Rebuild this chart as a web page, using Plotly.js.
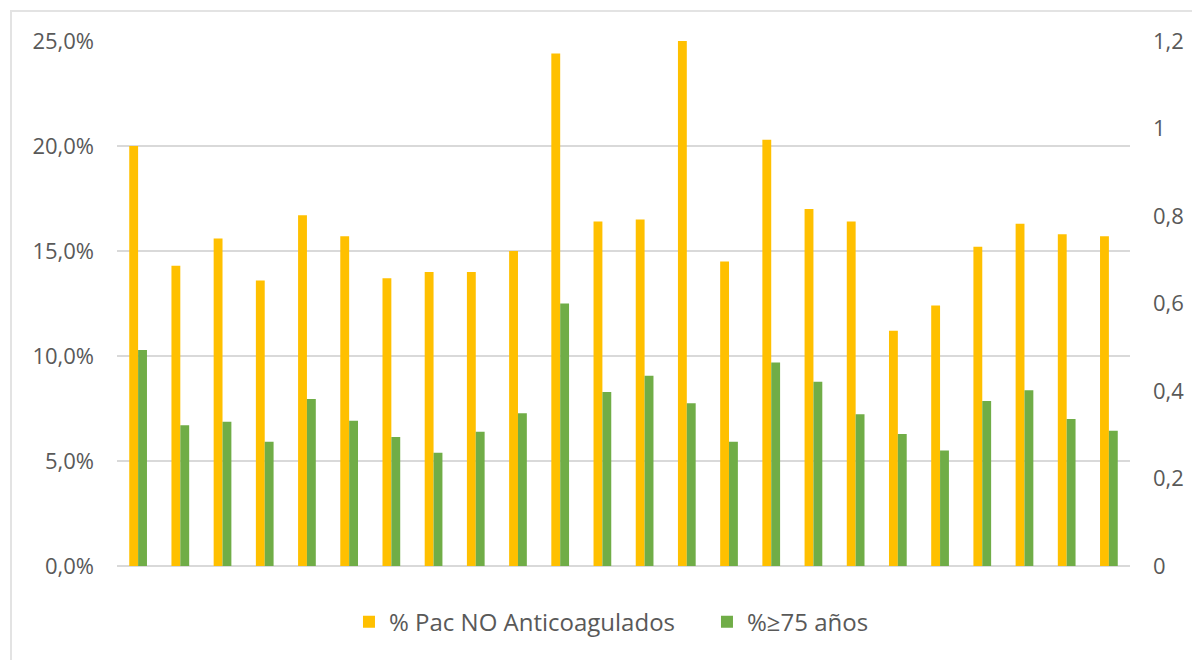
<!DOCTYPE html>
<html>
<head>
<meta charset="utf-8">
<script src="https://cdn.plot.ly/plotly-3.0.1.min.js"></script>
<style>
  html, body { margin: 0; padding: 0; background: #ffffff; }
  #wrap { position: relative; width: 1192px; height: 660px; overflow: hidden; }
  #chart { position: absolute; left: 0; top: 0; width: 1192px; height: 660px; }
  #frame { position: absolute; left: 10px; top: 10px; width: 1200px; height: 700px;
           border-left: 2px solid #e3e3e3; border-top: 2px solid #e3e3e3; pointer-events: none; }
</style>
</head>
<body>
<div id="wrap">
  <div id="chart"></div>
  <div id="frame"></div>
</div>
<script>
// Categories (no labels shown in the original chart)
const categories = ["1","2","3","4","5","6","7","8","9","10","11","12",
                    "13","14","15","16","17","18","19","20","21","22","23","24"];

// % Pac NO Anticoagulados (left axis, fraction)
const noAnticoagulados = [0.200, 0.143, 0.156, 0.136, 0.167, 0.157, 0.137, 0.140,
                          0.140, 0.150, 0.244, 0.164, 0.165, 0.250, 0.145, 0.203,
                          0.170, 0.164, 0.112, 0.124, 0.152, 0.163, 0.158, 0.157];

// %≥75 años (right axis)
const mayores75 = [0.494, 0.322, 0.330, 0.284, 0.382, 0.332, 0.295, 0.259,
                   0.307, 0.349, 0.600, 0.398, 0.435, 0.372, 0.284, 0.465,
                   0.421, 0.347, 0.302, 0.264, 0.377, 0.402, 0.336, 0.309];

const seriesNames = ["% Pac NO Anticoagulados", "%\u226575 a\u00f1os"];

const fontFamily = '"Open Sans", "Noto Sans", Arial, sans-serif';
const textColor = '#595959';

const traces = [
  {
    type: 'bar',
    name: seriesNames[0],
    x: categories,
    y: noAnticoagulados,
    yaxis: 'y',
    width: 0.21,
    offset: -0.21,
    marker: { color: '#FFC000' },
    hoverinfo: 'skip'
  },
  {
    type: 'bar',
    name: seriesNames[1],
    x: categories,
    y: mayores75,
    yaxis: 'y2',
    width: 0.21,
    offset: 0,
    marker: { color: '#70AD47' },
    hoverinfo: 'skip'
  }
];

const layout = {
  width: 1192,
  height: 660,
  paper_bgcolor: '#ffffff',
  plot_bgcolor: '#ffffff',
  separators: ', ',
  margin: { l: 117, r: 62, t: 41, b: 94 },
  font: { family: fontFamily, size: 22, color: textColor },
  showlegend: true,
  barmode: 'overlay',
  xaxis: {
    type: 'category',
    showticklabels: false,
    showgrid: false,
    zeroline: false,
    showline: false,
    ticks: '',
    fixedrange: true
  },
  yaxis: {
    range: [0, 0.25],
    dtick: 0.05,
    tick0: 0,
    tickformat: '.1%',
    showgrid: true,
    gridcolor: '#d9d9d9',
    gridwidth: 1.5,
    zeroline: true,
    zerolinecolor: '#d9d9d9',
    zerolinewidth: 1.5,
    showline: false,
    ticks: '',
    ticklabelstandoff: 22,
    tickfont: { family: fontFamily, size: 22, color: textColor },
    fixedrange: true
  },
  yaxis2: {
    overlaying: 'y',
    side: 'right',
    range: [0, 1.2],
    dtick: 0.2,
    tick0: 0,
    showgrid: false,
    zeroline: false,
    showline: false,
    ticks: '',
    ticklabelstandoff: 22,
    tickfont: { family: fontFamily, size: 22, color: textColor },
    fixedrange: true
  },
  legend: {
    orientation: 'h',
    x: 0.229,
    xanchor: 'left',
    y: -0.107,
    yanchor: 'middle',
    entrywidth: 313,
    entrywidthmode: 'pixels',
    font: { family: fontFamily, size: 24, color: textColor },
    bgcolor: 'rgba(0,0,0,0)',
    itemclick: false,
    itemdoubleclick: false
  }
};

Plotly.newPlot('chart', traces, layout, { displayModeBar: false, staticPlot: true });
</script>
</body>
</html>
